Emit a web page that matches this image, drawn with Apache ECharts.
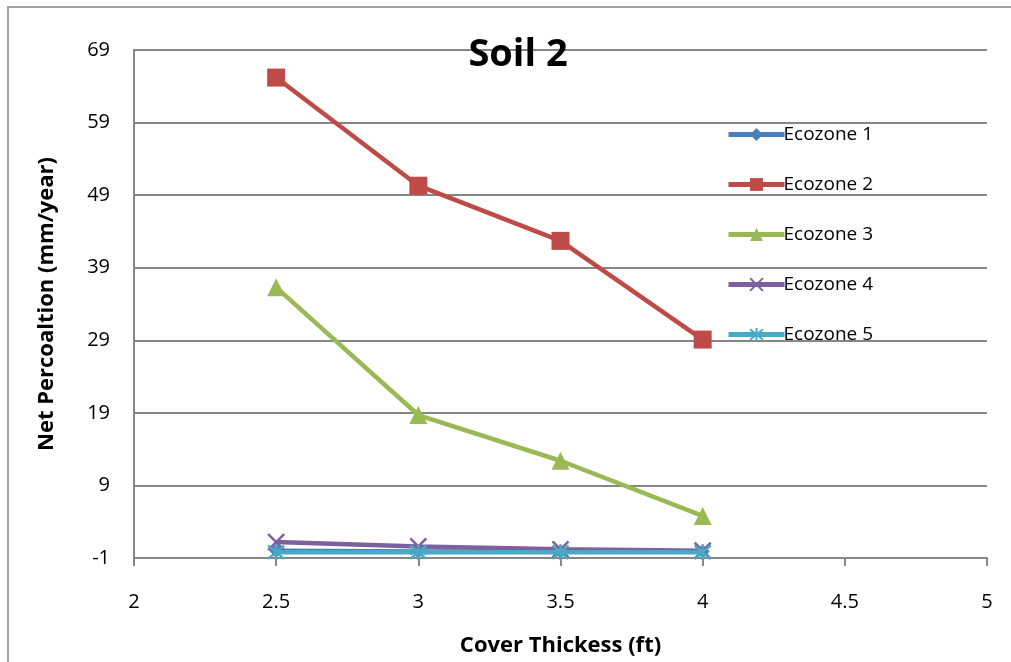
<!DOCTYPE html>
<html>
<head>
<meta charset="utf-8">
<script src="https://cdn.jsdelivr.net/npm/echarts@6/dist/echarts.min.js"></script>
<style>
html,body{margin:0;padding:0;background:#fff;}
#frame{position:absolute;left:7px;top:6px;width:1020px;height:670px;border:2px solid #a0a0a0;box-sizing:border-box;}
#chart{position:absolute;left:0;top:0;width:1011px;height:662px;}
</style>
</head>
<body>
<div id="frame"></div>
<div id="chart"></div>
<script>
const xValues = [2.5, 3, 3.5, 4];
const seriesNames = ['Ecozone 1', 'Ecozone 2', 'Ecozone 3', 'Ecozone 4', 'Ecozone 5'];
const eco1 = [0.0, -0.1, -0.1, -0.1];
const eco2 = [65.2, 50.3, 42.7, 29.1];
const eco3 = [36.3, 18.7, 12.4, 4.8];
const eco4 = [1.2, 0.6, 0.2, 0.0];
const eco5 = [-0.2, -0.2, -0.2, -0.2];
const title = 'Soil 2';
const xAxisTitle = 'Cover Thickess (ft)';
const yAxisTitle = 'Net Percoaltion (mm/year)';

const colors = ['#4A7EBB', '#BE4B48', '#98B954', '#7D60A0', '#46AAC5'];
const xPath = 'path://M0,0 L10,10 M10,0 L0,10';
const starPath = 'path://M0,0 L10,10 M10,0 L0,10 M5,-1 L5,11';
const symbols = ['diamond', 'rect', 'triangle', xPath, starPath];
const symbolSizes = [14, 18, 18, 16, 16];
const dataSets = [eco1, eco2, eco3, eco4, eco5];

const chart = echarts.init(document.getElementById('chart'), null, {renderer: 'canvas'});
const series = dataSets.map((d, i) => ({
  name: seriesNames[i],
  type: 'line',
  data: xValues.map((x, j) => [x, d[j]]),
  symbol: symbols[i],
  symbolSize: symbolSizes[i],
  showAllSymbol: true,
  lineStyle: {color: colors[i], width: 4.5},
  itemStyle: (i >= 3) ? {color: colors[i], borderColor: colors[i], borderWidth: 2.5} : {color: colors[i]},
  z: 2 + i
}));
chart.setOption({
  animation: false,
  color: colors,
  title: {
    text: title, left: 513, top: 31, textAlign: 'center',
    textStyle: {fontFamily: 'Open Sans', fontWeight: 'bold', fontSize: 38, color: '#000'}
  },
  legend: {
    orient: 'vertical', left: 721, top: 120, itemGap: 31, itemWidth: 56, itemHeight: 16,
    data: seriesNames,
    lineStyle: {width: 5},
    textStyle: {fontFamily: 'Open Sans', fontSize: 19, color: '#000', padding: [0,0,0,-6]}
  },
  grid: {left: 134, top: 50, width: 853, height: 510, containLabel: false},
  xAxis: {
    type: 'value', min: 2, max: 5, interval: 0.5,
    name: xAxisTitle, nameLocation: 'middle', nameGap: 77,
    nameTextStyle: {fontFamily: 'Open Sans', fontWeight: 'bold', fontSize: 22, color: '#000'},
    axisLine: {show: true, onZero: false, lineStyle: {color: '#868686', width: 2}},
    axisTick: {show: true, length: 8, lineStyle: {color: '#868686', width: 2}},
    axisLabel: {fontFamily: 'Open Sans', fontSize: 20, color: '#000', margin: 34},
    splitLine: {show: false}
  },
  yAxis: {
    type: 'value', min: -1, max: 69, interval: 10,
    name: yAxisTitle, nameLocation: 'middle', nameGap: 76, nameRotate: 90,
    nameTextStyle: {fontFamily: 'Open Sans', fontWeight: 'bold', fontSize: 22, color: '#000'},
    axisLine: {show: true, onZero: false, lineStyle: {color: '#868686', width: 2}},
    axisTick: {show: false},
    axisLabel: {fontFamily: 'Open Sans', fontSize: 20, color: '#000', margin: 24},
    splitLine: {show: true, lineStyle: {color: '#868686', width: 2}}
  },
  series: series
});
</script>
</body>
</html>
